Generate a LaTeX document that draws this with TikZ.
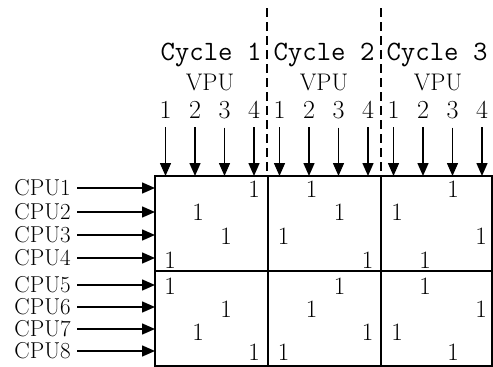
\documentclass[tikz,border=0pt]{standalone}
\usetikzlibrary{arrows.meta,positioning}

\begin{document}
\begin{tikzpicture}[x=1pt,y=-1pt,
every node/.style={inner sep=0pt,font=\fontsize{24}{24}\selectfont},
cyc/.style={anchor=base,font=\ttfamily\fontsize{28}{28}\selectfont},
cpulabel/.style={anchor=east,font=\fontsize{23}{23}\selectfont},
arr/.style={line width=1.5pt,-{Triangle[length=13pt,width=11pt]}},
cell/.style={line width=1.5pt},
sep/.style={line width=1.2pt,dash pattern=on 9pt off 5pt}]
\useasboundingbox (0,0) rectangle (493,367);
% grid of cycles
\draw[cell] (155,176) rectangle (492,366);
\draw[cell] (268,176) -- (268,366) (381,176) -- (381,366) (155,271) -- (492,271);
\draw[sep] (267,8) -- (267,176) (381,8) -- (381,176);
% cycles and VPUs
\foreach \p in {1,2,3}{
  \node[cyc] (cyc\p) at ({211+113*(\p-1)},60) {Cycle \p};
  \node[anchor=base] (vpu\p) at ({210+114*(\p-1)},90) {VPU};
  \foreach \k in {1,...,4}{
    \node[anchor=base,font=\fontsize{26}{26}\selectfont] (n\p-\k) at ({165.5+29.5*(\k-1)+114*(\p-1)},118) {\k};
    \coordinate (t\p-\k) at ({165.5+29.5*(\k-1)+114*(\p-1)},176);
    \draw[arr,shorten <=9pt] (n\p-\k) -- (t\p-\k);
  }
}
% CPUs
\foreach \i/\yy in {1/188,2/212,3/235,4/258,5/285,6/307,7/329,8/351}{
  \node[cpulabel] (cpu\i) at (71,\yy) {CPU\i};
  \coordinate (in\i) at (155,\yy);
  \draw[arr,shorten <=6pt] (cpu\i) -- (in\i);
}
% entries
\foreach \row/\yy/\a/\b/\s in {1/189/4/2/3,2/212/2/3/1,3/236/3/1/4,4/260/1/4/2,
  5/286/1/3/2,6/309/3/2/4,7/332/2/4/1,8/352/4/1/3}{
  \node[font=\fontsize{25}{25}\selectfont] (e\row-1) at ({170+28*(\a-1)},\yy) {1};
  \node[font=\fontsize{25}{25}\selectfont] (e\row-2) at ({283.5+28*(\b-1)},\yy) {1};
  \node[font=\fontsize{25}{25}\selectfont] (e\row-3) at ({397+28*(\s-1)},\yy) {1};
}
\end{tikzpicture}
\end{document}
